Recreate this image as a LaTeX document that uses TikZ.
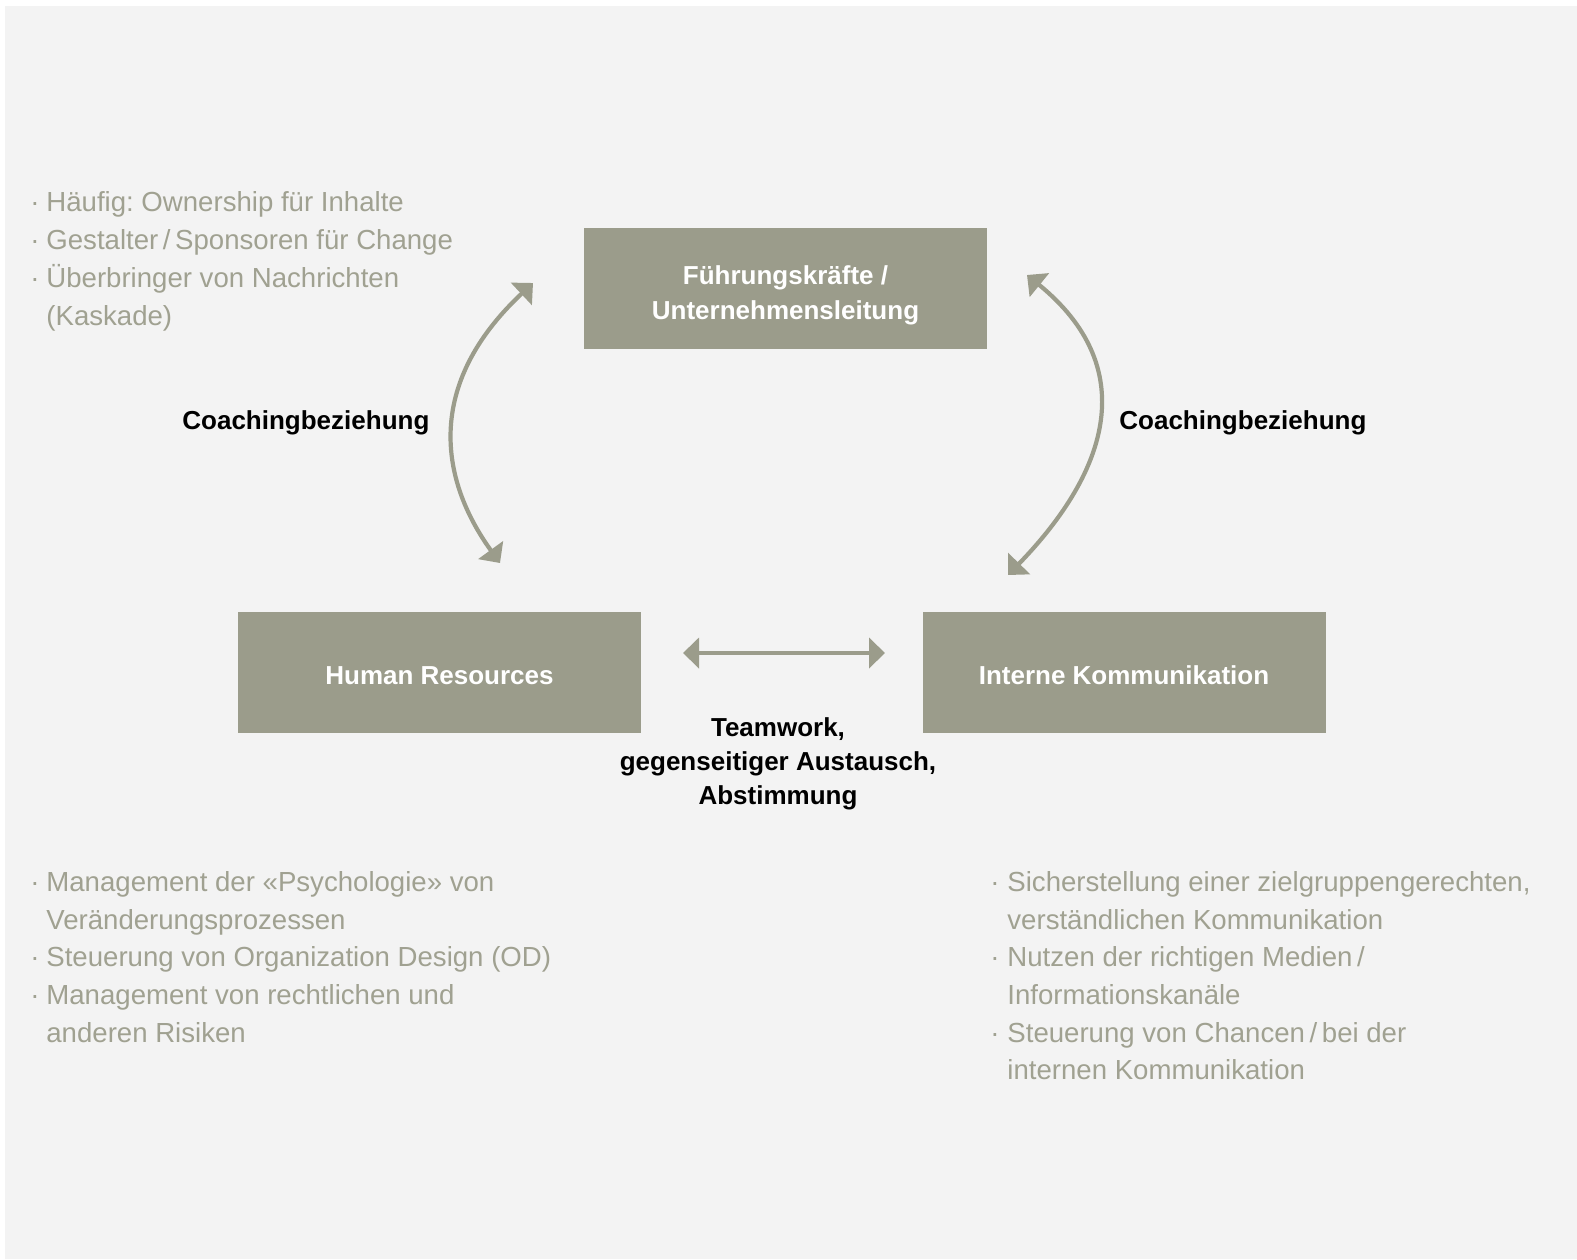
\documentclass[tikz,border=0pt]{standalone}
\usepackage{fontspec}
\setmainfont{Liberation Sans}
\usetikzlibrary{arrows.meta, positioning}

\definecolor{bggray}{HTML}{F3F3F3}
\definecolor{boxgray}{HTML}{9B9C8B}
\definecolor{notegray}{HTML}{A0A191}

\tikzset{
    box/.style={fill=boxgray, minimum width=201.5pt, minimum height=60.5pt, inner sep=0pt,
        text=white, align=center, font=\fontsize{13}{17.5}\selectfont\bfseries},
    note/.style={anchor=base west, inner sep=0pt, text=notegray, font=\fontsize{13.8}{19}\selectfont},
    dot/.style={anchor=base west, inner sep=0pt, text=notegray, font=\fontsize{13.8}{19}\selectfont},
    relation/.style={inner sep=0pt, align=center, font=\fontsize{13}{17}\selectfont\bfseries},
    tip/.tip={Triangle[length=8pt, width=15pt]},
    link/.style={draw=boxgray, line width=2.1pt, tip-tip},
}
\frenchspacing

\begin{document}
\begin{tikzpicture}[x=0.5pt, y=-0.5pt]
    \useasboundingbox (0,0) rectangle (1577,1259);
    \fill[bggray] (5,6) rectangle (1577,1259);

    % Boxes
    \node[box, text height=33.5pt] (fuehrung) at (785.5,288.5) {Führungskräfte /\\Unternehmensleitung};
    \node[box, text height=12.5pt] (hr) at (439.5,672.5) {Human Resources};
    \node[box, text height=12.5pt] (ik) at (1124,672.5) {Interne Kommunikation};

    % Arrows
    \coordinate (hrTop) at (500,563);
    \coordinate (fLeft) at (533,283);
    \coordinate (ikTop) at (1008,575);
    \coordinate (fRight) at (1027,275);
    \coordinate (teamL) at (683,653);
    \coordinate (teamR) at (885,653);
    \draw[link] (hrTop) .. controls (440,480) and (424,385) .. (fLeft);
    \draw[link] (ikTop) .. controls (1110,470) and (1140,367) .. (fRight);
    \draw[link] (teamL) -- (teamR);

    % Relation labels
    \node[relation, anchor=base west] (coachL) at (182,429) {Coachingbeziehung};
    \node[relation, anchor=base west] (coachR) at (1119,429) {Coachingbeziehung};
    \node[relation, anchor=base] (team1) at (778,736) {Teamwork,};
    \node[relation, anchor=base] (team2) at (778,770) {gegenseitiger Austausch,};
    \node[relation, anchor=base] (team3) at (778,804) {Abstimmung};

    % Notes Führungskräfte
    \node[dot] (fd1) at (30,211) {·};
    \node[dot] (fd2) at (30,249) {·};
    \node[dot] (fd3) at (30,287) {·};
    \node[note] (fn1) at (46,211) {Häufig: Ownership für Inhalte};
    \node[note] (fn2) at (46,249) {Gestalter\,/\,Sponsoren für Change};
    \node[note] (fn3) at (46,287) {Überbringer von Nachrichten};
    \node[note] (fn4) at (46,325) {(Kaskade)};

    % Notes Human Resources
    \node[dot] (hd1) at (30,891) {·};
    \node[dot] (hd2) at (30,966) {·};
    \node[dot] (hd3) at (30,1004) {·};
    \node[note] (hn1) at (46,891) {Management der «Psychologie» von};
    \node[note] (hn2) at (46,929) {Veränderungsprozessen};
    \node[note] (hn3) at (46,966) {Steuerung von Organization Design (OD)};
    \node[note] (hn4) at (46,1004) {Management von rechtlichen und};
    \node[note] (hn5) at (46,1042) {anderen Risiken};

    % Notes Interne Kommunikation
    \node[dot] (kd1) at (990,891) {·};
    \node[dot] (kd2) at (990,966) {·};
    \node[dot] (kd3) at (990,1042) {·};
    \node[note] (kn1) at (1007,891) {Sicherstellung einer zielgruppengerechten,};
    \node[note] (kn2) at (1007,929) {verständlichen Kommunikation};
    \node[note] (kn3) at (1007,966) {Nutzen der richtigen Medien\,/};
    \node[note] (kn4) at (1007,1004) {Informationskanäle};
    \node[note] (kn5) at (1007,1042) {Steuerung von Chancen\,/\,bei der};
    \node[note] (kn6) at (1007,1079) {internen Kommunikation};
\end{tikzpicture}
\end{document}
